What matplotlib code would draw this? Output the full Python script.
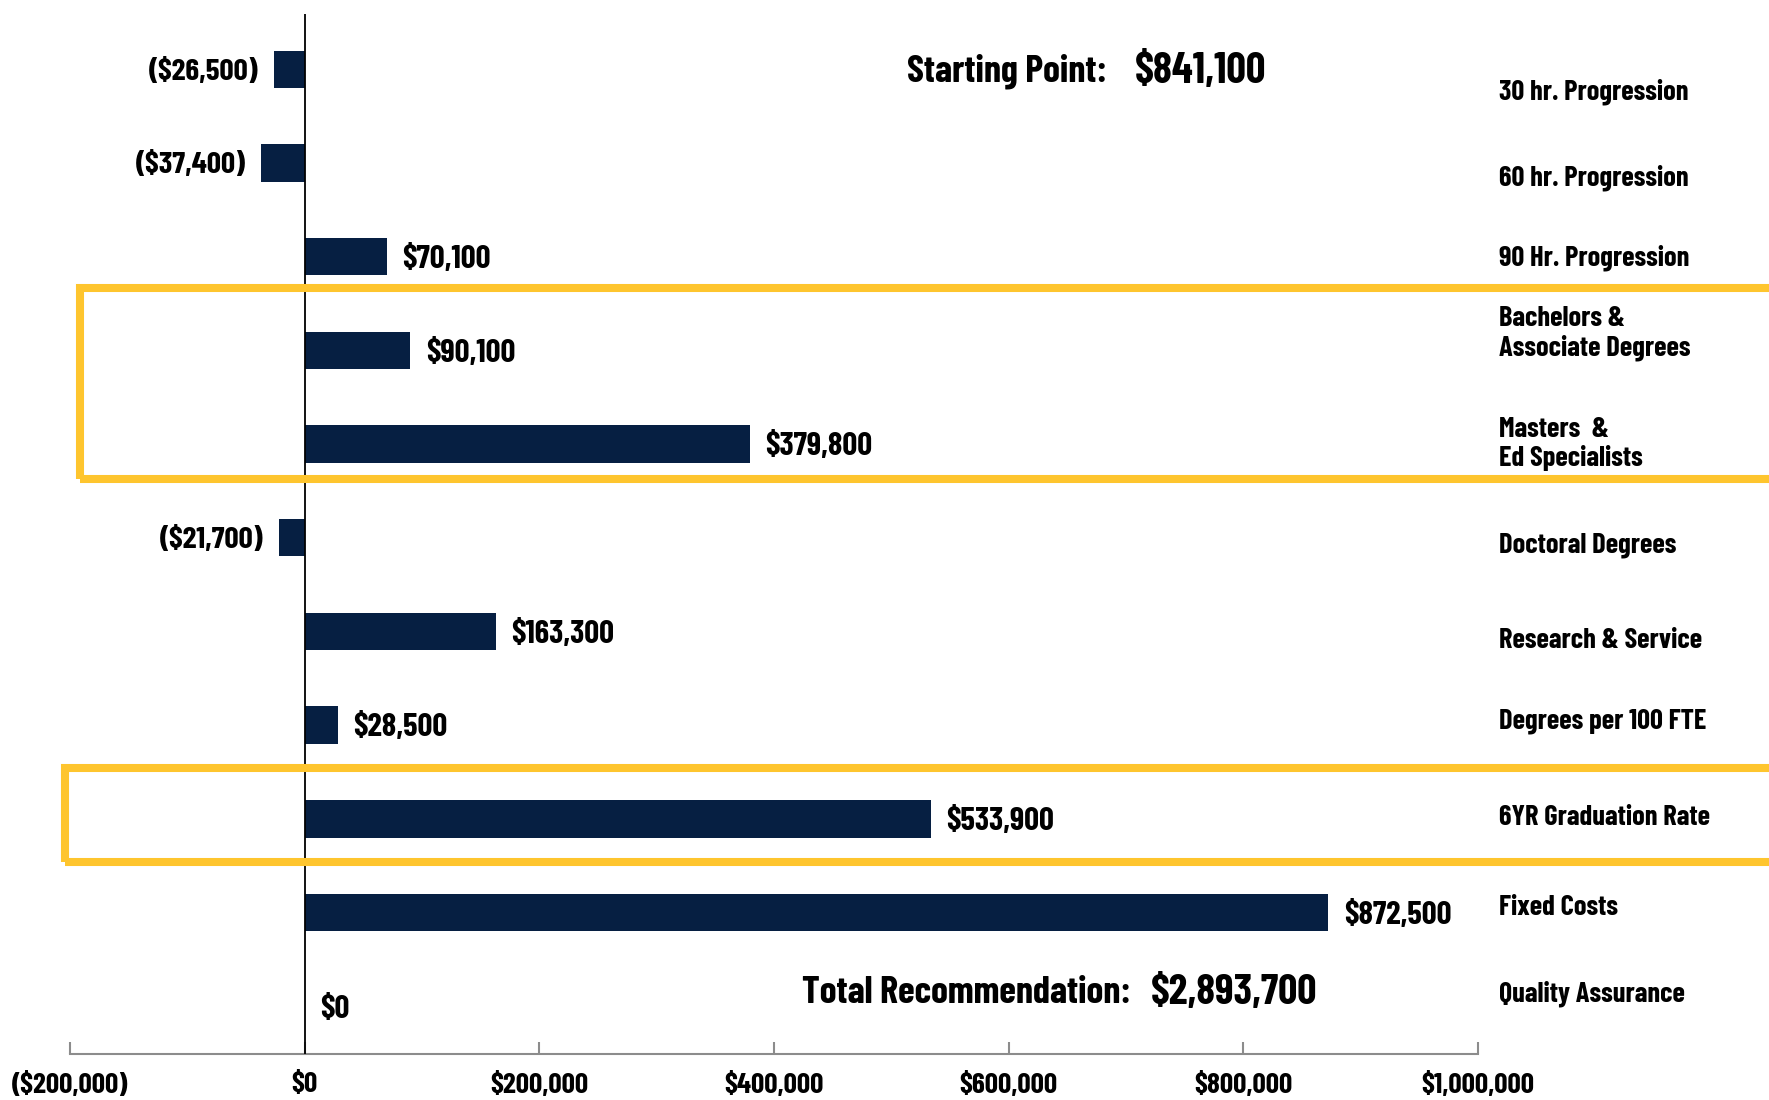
import matplotlib
matplotlib.use("Agg")
import matplotlib.pyplot as plt
from matplotlib.patches import Rectangle
from matplotlib.ticker import FuncFormatter

FONT = ['Barlow Condensed', 'DejaVu Sans']
WEIGHT = 700
plt.rcParams['font.family'] = FONT
plt.rcParams['font.weight'] = WEIGHT

categories = ["30 hr. Progression", "60 hr. Progression", "90 Hr. Progression",
              "Bachelors &\nAssociate Degrees", "Masters  &\nEd Specialists",
              "Doctoral Degrees", "Research & Service", "Degrees per 100 FTE",
              "6YR Graduation Rate", "Fixed Costs", "Quality Assurance"]
values = [-26500, -37400, 70100, 90100, 379800, -21700, 163300, 28500, 533900, 872500, 0]
xticks = [-200000, 0, 200000, 400000, 600000, 800000, 1000000]
starting_point = 841100
total_recommendation = 2893700

# vertical offsets of category text boxes (in category units)
label_offsets = [0.24, 0.16, 0.01, -0.18, 0.0, 0.08, 0.10, -0.04, -0.01, -0.05, -0.13]

BAR = '#061F42'
GOLD = '#FEC52E'

def money(v):
    if v < 0:
        return "(${:,.0f})".format(-v)
    return "${:,.0f}".format(v)

W, H = 1769, 1100
fig = plt.figure(figsize=(W / 100, H / 100), dpi=100)
ax = fig.add_axes([70 / W, 1 - 1054 / H, (1478 - 70) / W, (1054 - 14) / H])

ypos = list(range(len(categories)))
ax.barh(ypos, values, height=0.4, color=BAR, zorder=2)
ax.set_xlim(-200000, 1000000)
ax.set_ylim(10.51, -0.59)

ax.axvline(0, color='black', lw=1.3, zorder=3)

for s in ['top', 'right', 'left']:
    ax.spines[s].set_visible(False)
ax.spines['bottom'].set_color('#8c8c8c')
ax.spines['bottom'].set_linewidth(1.5)
ax.set_yticks([])
ax.set_xticks(xticks)
ax.xaxis.set_major_formatter(FuncFormatter(lambda v, p: money(v)))
ax.tick_params(axis='x', direction='in', length=9, width=1.5, color='#8c8c8c',
               labelsize=21, pad=13)
for t in ax.get_xticklabels():
    t.set_fontweight(WEIGHT)

pad = 13000
for y, v in zip(ypos, values):
    if v < 0:
        ax.text(v - pad, y + 0.03, money(v), ha='right', va='center', fontsize=22.5, fontweight=WEIGHT)
    else:
        ax.text(v + pad, y + 0.03, money(v), ha='left', va='center', fontsize=23.5, fontweight=WEIGHT)

for y, c, off in zip(ypos, categories, label_offsets):
    ax.text(1.015, y + off, c, transform=ax.get_yaxis_transform(), ha='left', va='center',
            fontsize=20.5, fontweight=WEIGHT, clip_on=False, linespacing=1.15)

tr = ax.get_yaxis_transform()
ax.text(0.5945, 0.02, "Starting Point:", transform=tr, ha='left', va='center',
        fontsize=27.5, fontweight=WEIGHT)
ax.text(0.756, 0.02, money(starting_point), transform=tr, ha='left', va='center',
        fontsize=31, fontweight=WEIGHT)
ax.text(0.520, 9.86, "Total Recommendation:", transform=tr, ha='left', va='center',
        fontsize=27.5, fontweight=WEIGHT)
ax.text(0.768, 9.86, money(total_recommendation), transform=tr, ha='left', va='center',
        fontsize=30.5, fontweight=WEIGHT)

# highlight boxes
lw = 5.8
fig.patches.append(Rectangle((80 / W, 1 - 479 / H), 1.2, (479 - 288) / H, transform=fig.transFigure,
                             fill=False, edgecolor=GOLD, lw=lw, zorder=5))
fig.patches.append(Rectangle((65 / W, 1 - 862 / H), 1.2, (862 - 768) / H, transform=fig.transFigure,
                             fill=False, edgecolor=GOLD, lw=lw, zorder=5))

fig.savefig("out.png", dpi=100)
